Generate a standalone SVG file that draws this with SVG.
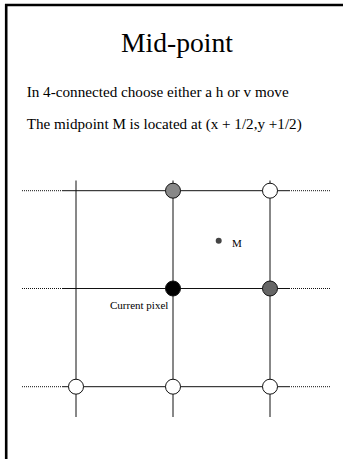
<svg xmlns="http://www.w3.org/2000/svg" width="343" height="459" viewBox="0 0 343 459">
<style>
.t{font-family:'Liberation Serif','Times New Roman','DejaVu Serif',serif;fill:#000}
.g{stroke:#111;stroke-width:1;fill:none}
.d{stroke:#111;stroke-width:1;stroke-dasharray:1 1;fill:none}
.c{stroke:#111;stroke-width:1}
</style>
<rect width="343" height="459" fill="#fff"/>
<path d="M6.2,459 V5 H343" fill="none" stroke="#000" stroke-width="2.6"/>
<g id="texts">
<text class="t" x="177" y="52" font-size="27.6" text-anchor="middle">Mid-point</text>
<text class="t" x="26.7" y="96.7" font-size="14.5" textLength="262" lengthAdjust="spacingAndGlyphs">In 4-connected choose either a h or v move</text>
<text class="t" x="26.7" y="129.3" font-size="14.5" textLength="275" lengthAdjust="spacingAndGlyphs">The midpoint M is located at (x + 1/2,y +1/2)</text>
</g>
<g id="connectors">
<path class="g" d="M76,180.5V417 M173,180.5V417 M270,180.5V417"/>
<path class="g" d="M63,190.7H289 M63,288.5H289 M63,386.7H289"/>
<path class="d" d="M22,190.7H63 M22,288.5H63 M22,386.7H63 M289,190.7H331 M289,288.5H331 M289,386.7H331"/>
</g>
<g id="p-top-mid"><circle class="c" cx="173" cy="190.7" r="7.5" fill="#888"/></g>
<g id="p-top-right"><circle class="c" cx="270" cy="190.7" r="7.5" fill="#fff"/></g>
<g id="p-current"><circle class="c" cx="173" cy="288.5" r="7.5" fill="#000"/><text class="t" x="110" y="309.3" font-size="11">Current pixel</text></g>
<g id="p-mid-right"><circle class="c" cx="270" cy="288.5" r="7.5" fill="#666"/></g>
<g id="p-bot-left"><circle class="c" cx="76" cy="386.7" r="7.5" fill="#fff"/></g>
<g id="p-bot-mid"><circle class="c" cx="173" cy="386.7" r="7.5" fill="#fff"/></g>
<g id="p-bot-right"><circle class="c" cx="270" cy="386.7" r="7.5" fill="#fff"/></g>
<g id="midpoint"><circle cx="218.7" cy="240.7" r="3" fill="#444"/><text class="t" x="232" y="247.3" font-size="11">M</text></g>
</svg>
